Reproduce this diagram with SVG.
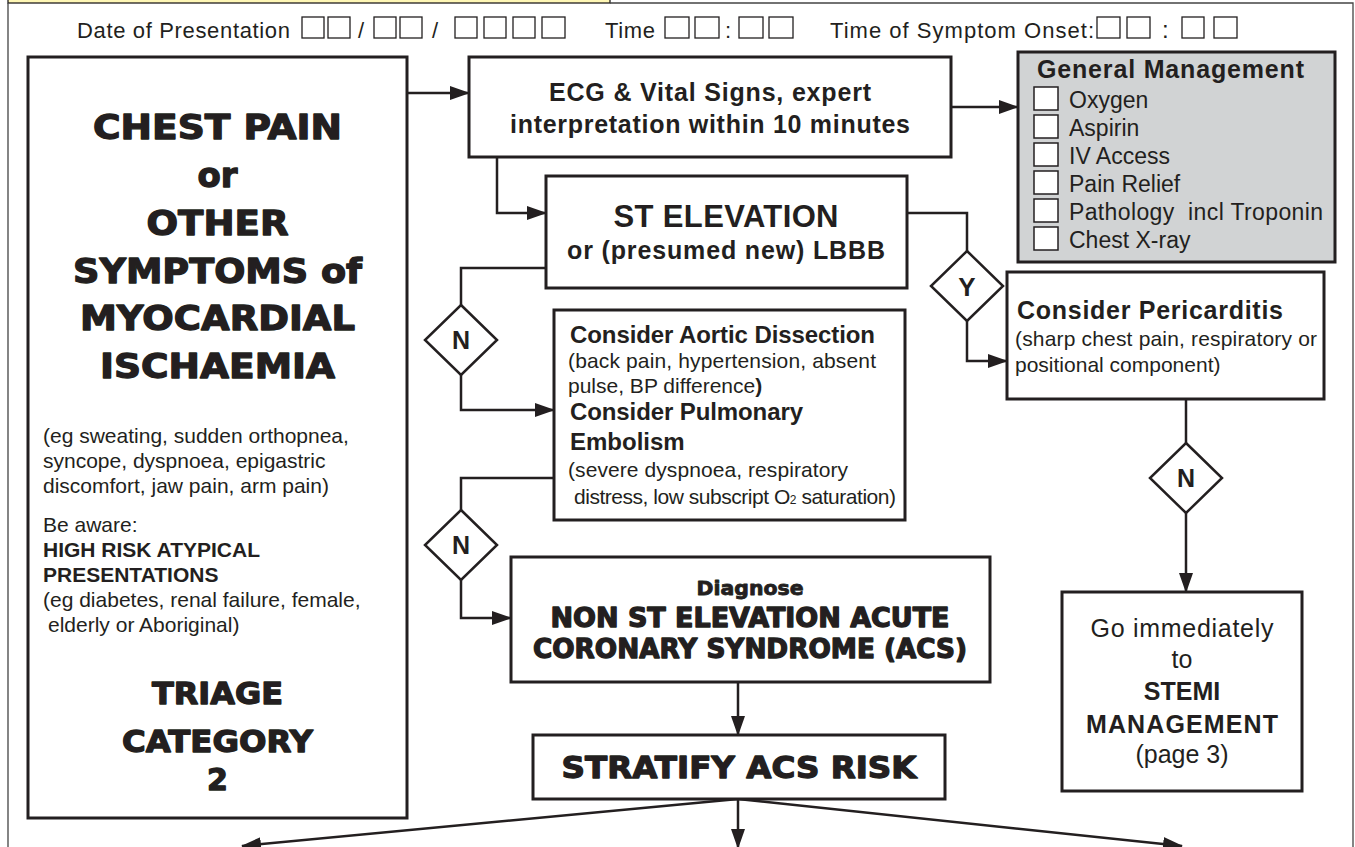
<svg xmlns="http://www.w3.org/2000/svg" width="1355" height="847" viewBox="0 0 1355 847">
<style>
text{fill:#231f20;font-family:"Liberation Sans",Arial,sans-serif}
.hv{font-family:"DejaVu Sans","Liberation Sans",sans-serif;font-weight:bold;stroke:#231f20;stroke-width:1.3px;stroke-linejoin:round}
.b{font-weight:bold}
.box{fill:#fff;stroke:#231f20;stroke-width:3}
.hb{fill:#fff;stroke:#231f20;stroke-width:1.3}
.cb{fill:#fff;stroke:#231f20;stroke-width:1.5}
.dia{fill:#fff;stroke:#231f20;stroke-width:2.5}
.con{fill:none;stroke:#231f20;stroke-width:2.5}
.c{text-anchor:middle}
.h{font-size:22px}
.s{font-size:21px}
</style>
<defs>
<marker id="ah" markerWidth="20" markerHeight="14" refX="19" refY="7" orient="auto" markerUnits="userSpaceOnUse">
<path d="M0,0 L20,7 L0,14 z" fill="#231f20"/>
</marker>
</defs>
<rect width="1355" height="847" fill="#fff"/>
<g id="frame">
<rect x="8" y="-10" width="602" height="13" fill="#fff7b5" stroke="#231f20" stroke-width="1.3"/>
<path d="M8,3 V847 M610,3 H1353 V847" fill="none" stroke="#444" stroke-width="1.3"/>
</g>
<g id="header">
<text class="h" x="77" y="38" textLength="213">Date of Presentation</text>
<rect class="hb" x="302" y="17" width="22" height="21"/>
<rect class="hb" x="328" y="17" width="22" height="21"/>
<text class="h" x="358" y="38">/</text>
<rect class="hb" x="374" y="17" width="22" height="21"/>
<rect class="hb" x="400" y="17" width="22" height="21"/>
<text class="h" x="432" y="38">/</text>
<rect class="hb" x="455" y="17" width="22" height="21"/>
<rect class="hb" x="484" y="17" width="22" height="21"/>
<rect class="hb" x="513" y="17" width="22" height="21"/>
<rect class="hb" x="542" y="17" width="23" height="21"/>
<text class="h" x="605" y="38" textLength="50">Time</text>
<rect class="hb" x="665" y="17" width="24" height="21"/>
<rect class="hb" x="695" y="17" width="24" height="21"/>
<text class="h" x="725" y="38">:</text>
<rect class="hb" x="739" y="17" width="24" height="21"/>
<rect class="hb" x="769" y="17" width="24" height="21"/>
<text class="h" x="830" y="38" textLength="264">Time of Symptom Onset:</text>
<rect class="hb" x="1097" y="17" width="23" height="21"/>
<rect class="hb" x="1127" y="17" width="23" height="21"/>
<text x="1162" y="38" font-size="24">:</text>
<rect class="hb" x="1182" y="17" width="22" height="21"/>
<rect class="hb" x="1214" y="17" width="23" height="21"/>
</g>
<g id="connectors">
<path class="con" d="M407,93 H469" marker-end="url(#ah)"/>
<path class="con" d="M951,107 H1018" marker-end="url(#ah)"/>
<path class="con" d="M497,157 V213 H546" marker-end="url(#ah)"/>
<path class="con" d="M907,213 H967 V251"/>
<path class="con" d="M967,321 V361 H1007" marker-end="url(#ah)"/>
<path class="con" d="M546,268 H461 V305"/>
<path class="con" d="M461,375 V410 H554" marker-end="url(#ah)"/>
<path class="con" d="M554,478 H461 V510"/>
<path class="con" d="M461,580 V618 H511" marker-end="url(#ah)"/>
<path class="con" d="M1186,399 V443"/>
<path class="con" d="M1186,513 V592" marker-end="url(#ah)"/>
<path class="con" d="M738,682 V735" marker-end="url(#ah)"/>
<path class="con" d="M738,799 V848" marker-end="url(#ah)"/>
<path class="con" d="M738,799 L242,846" marker-end="url(#ah)"/>
<path class="con" d="M738,799 L1182,846" marker-end="url(#ah)"/>
</g>
<g id="chest-pain">
<rect class="box" x="28" y="57" width="379" height="761"/>
<text class="hv c" x="217.5" y="139" font-size="34" textLength="249" lengthAdjust="spacingAndGlyphs">CHEST PAIN</text>
<text class="hv c" x="217.5" y="187" font-size="34" textLength="40" lengthAdjust="spacingAndGlyphs">or</text>
<text class="hv c" x="217.5" y="235" font-size="34" textLength="142" lengthAdjust="spacingAndGlyphs">OTHER</text>
<text class="hv c" x="217.5" y="283" font-size="34" textLength="289" lengthAdjust="spacingAndGlyphs">SYMPTOMS of</text>
<text class="hv c" x="217.5" y="330" font-size="34" textLength="275" lengthAdjust="spacingAndGlyphs">MYOCARDIAL</text>
<text class="hv c" x="217.5" y="378" font-size="34" textLength="235" lengthAdjust="spacingAndGlyphs">ISCHAEMIA</text>
<text class="s" x="43" y="443">(eg sweating, sudden orthopnea,</text>
<text class="s" x="43" y="468">syncope, dyspnoea, epigastric</text>
<text class="s" x="43" y="493">discomfort, jaw pain, arm pain)</text>
<text class="s" x="43" y="532">Be aware:</text>
<text class="s b" x="43" y="557">HIGH RISK ATYPICAL</text>
<text class="s b" x="43" y="582">PRESENTATIONS</text>
<text class="s" x="43" y="607">(eg diabetes, renal failure, female,</text>
<text class="s" x="48" y="632">elderly or Aboriginal)</text>
<text class="hv c" x="217.5" y="704" font-size="30" textLength="131" lengthAdjust="spacingAndGlyphs">TRIAGE</text>
<text class="hv c" x="217.5" y="752" font-size="30" textLength="191" lengthAdjust="spacingAndGlyphs">CATEGORY</text>
<text class="hv c" x="217.5" y="790" font-size="30">2</text>
</g>
<g id="ecg">
<rect class="box" x="469" y="57" width="482" height="100"/>
<text class="b c" x="710" y="101" font-size="25" textLength="322">ECG &amp; Vital Signs, expert</text>
<text class="b c" x="710" y="133" font-size="25" textLength="400">interpretation within 10 minutes</text>
</g>
<g id="general-management">
<rect x="1018" y="52" width="317" height="210" fill="#d1d3d4" stroke="#231f20" stroke-width="3"/>
<text class="b" x="1037" y="78" font-size="25" textLength="267">General Management</text>
<rect class="cb" x="1034" y="87" width="24" height="23"/>
<rect class="cb" x="1034" y="115" width="24" height="23"/>
<rect class="cb" x="1034" y="143" width="24" height="23"/>
<rect class="cb" x="1034" y="171" width="24" height="23"/>
<rect class="cb" x="1034" y="199" width="24" height="23"/>
<rect class="cb" x="1034" y="227" width="24" height="23"/>
<text x="1069" y="108" font-size="23">Oxygen</text>
<text x="1069" y="136" font-size="23">Aspirin</text>
<text x="1069" y="164" font-size="23">IV Access</text>
<text x="1069" y="192" font-size="23">Pain Relief</text>
<text x="1069" y="220" font-size="23" xml:space="preserve" textLength="254">Pathology  incl Troponin</text>
<text x="1069" y="248" font-size="23">Chest X-ray</text>
</g>
<g id="st-elevation">
<rect class="box" x="546" y="176" width="361" height="112"/>
<text class="b c" x="726" y="227" font-size="31" textLength="225">ST ELEVATION</text>
<text class="b c" x="726" y="259" font-size="25" textLength="318">or (presumed new) LBBB</text>
</g>
<g id="decision-y">
<polygon class="dia" points="967,251 1003,286 967,321 931,286"/>
<text class="b c" x="967" y="296" font-size="26">Y</text>
</g>
<g id="pericarditis">
<rect class="box" x="1007" y="272" width="317" height="127"/>
<text class="b" x="1017" y="319" font-size="25" textLength="266">Consider Pericarditis</text>
<text class="s" x="1015" y="346" textLength="302">(sharp chest pain, respiratory or</text>
<text class="s" x="1015" y="372">positional component)</text>
</g>
<g id="decision-n1">
<polygon class="dia" points="461,305 497,340 461,375 425,340"/>
<text class="b c" x="461" y="349" font-size="25">N</text>
</g>
<g id="aortic-pe">
<rect class="box" x="554" y="310" width="351" height="210"/>
<text class="b" x="570" y="343" font-size="24" textLength="305">Consider Aortic Dissection</text>
<text class="s" x="568" y="368" textLength="308">(back pain, hypertension, absent</text>
<text class="s" x="568" y="393">pulse, BP difference<tspan font-weight="bold">)</tspan></text>
<text class="b" x="570" y="420" font-size="24" textLength="233">Consider Pulmonary</text>
<text class="b" x="570" y="450" font-size="24">Embolism</text>
<text class="s" x="568" y="477" textLength="280">(severe dyspnoea, respiratory</text>
<text class="s" x="574" y="504" textLength="322">distress, low subscript O<tspan font-size="12">2</tspan> saturation)</text>
</g>
<g id="decision-n2">
<polygon class="dia" points="461,510 497,545 461,580 425,545"/>
<text class="b c" x="461" y="554" font-size="25">N</text>
</g>
<g id="decision-n3">
<polygon class="dia" points="1186,443 1222,478 1186,513 1150,478"/>
<text class="b c" x="1186" y="487" font-size="25">N</text>
</g>
<g id="nsteacs">
<rect class="box" x="511" y="557" width="479" height="125"/>
<text class="hv c" x="750" y="595" font-size="19" textLength="107" lengthAdjust="spacingAndGlyphs" style="stroke-width:0.8px">Diagnose</text>
<text class="hv c" x="750" y="627" font-size="26" textLength="399" lengthAdjust="spacingAndGlyphs">NON ST ELEVATION ACUTE</text>
<text class="hv c" x="750" y="658" font-size="26" textLength="434" lengthAdjust="spacingAndGlyphs">CORONARY SYNDROME (ACS)</text>
</g>
<g id="stratify">
<rect class="box" x="533" y="735" width="412" height="64"/>
<text class="hv c" x="739" y="778" font-size="31" textLength="355" lengthAdjust="spacingAndGlyphs">STRATIFY ACS RISK</text>
</g>
<g id="stemi">
<rect class="box" x="1062" y="592" width="240" height="199"/>
<text class="c" x="1182" y="637" font-size="25" textLength="183">Go immediately</text>
<text class="c" x="1182" y="668" font-size="25">to</text>
<text class="b c" x="1182" y="700" font-size="25">STEMI</text>
<text class="b c" x="1182" y="733" font-size="25" textLength="192">MANAGEMENT</text>
<text class="c" x="1182" y="763" font-size="25">(page 3)</text>
</g>
</svg>
